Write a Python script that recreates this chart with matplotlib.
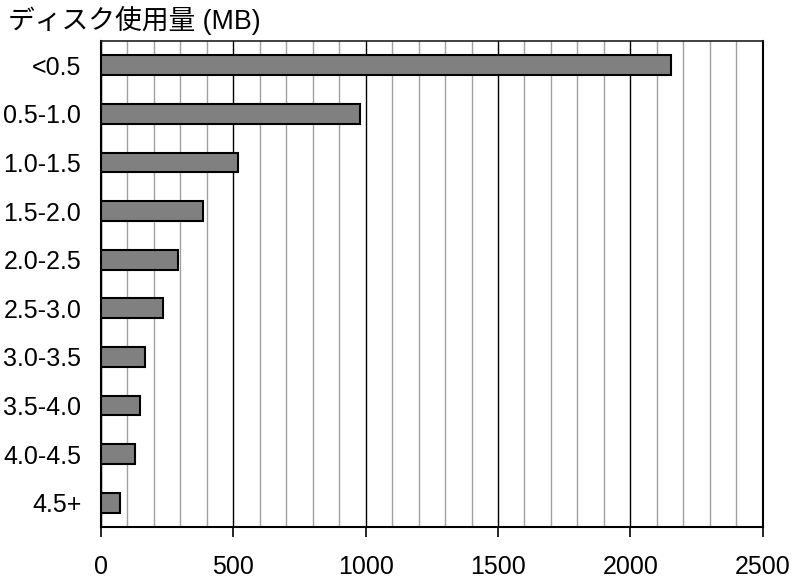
import matplotlib
matplotlib.use("Agg")
import matplotlib.pyplot as plt
from matplotlib.ticker import MultipleLocator

plt.rcParams['font.family'] = ['Liberation Sans', 'Noto Sans CJK JP', 'DejaVu Sans']

categories = ["<0.5", "0.5-1.0", "1.0-1.5", "1.5-2.0", "2.0-2.5",
              "2.5-3.0", "3.0-3.5", "3.5-4.0", "4.0-4.5", "4.5+"]
values = [2155, 980, 519, 385, 293, 234, 169, 149, 131, 74]
x_ticks = [0, 500, 1000, 1500, 2000, 2500]
title = "ディスク使用量 (MB)"

fig = plt.figure(figsize=(7.93, 5.8), dpi=100)
ax = fig.add_axes([0.127, 0.0914, 0.835, 0.8379])

ypos = list(range(len(categories)))
ax.barh(ypos, values, height=0.41, color="#808080", edgecolor="black",
        linewidth=1.5, zorder=3)

ax.set_xlim(0, 2500)
ax.set_ylim(len(categories) - 0.5, -0.5)
ax.set_yticks(ypos)
ax.set_yticklabels(categories)
ax.set_xticks(x_ticks)
ax.set_xticklabels([str(t) for t in x_ticks])
ax.xaxis.set_minor_locator(MultipleLocator(100))

ax.grid(True, axis='x', which='minor', color='#a0a0a0', linewidth=1.0, zorder=1)
ax.grid(True, axis='x', which='major', color='black', linewidth=1.0, zorder=2)
ax.grid(False, axis='y')

ax.tick_params(axis='x', which='major', direction='out', length=7, width=1.2,
               pad=13, labelsize=18, color='black')
ax.tick_params(axis='x', which='minor', length=0)
ax.tick_params(axis='y', which='both', length=0, pad=14, labelsize=18)

for side in ['left', 'bottom', 'right']:
    ax.spines[side].set_linewidth(1.5)
    ax.spines[side].set_color('black')
ax.spines['top'].set_linewidth(1.2)
ax.spines['top'].set_color('#202020')
for s in ax.spines.values():
    s.set_zorder(4)

fig.text(0.01, 0.9655, title, fontsize=19.3, ha='left', va='center')

fig.savefig("out.png", dpi=100)
